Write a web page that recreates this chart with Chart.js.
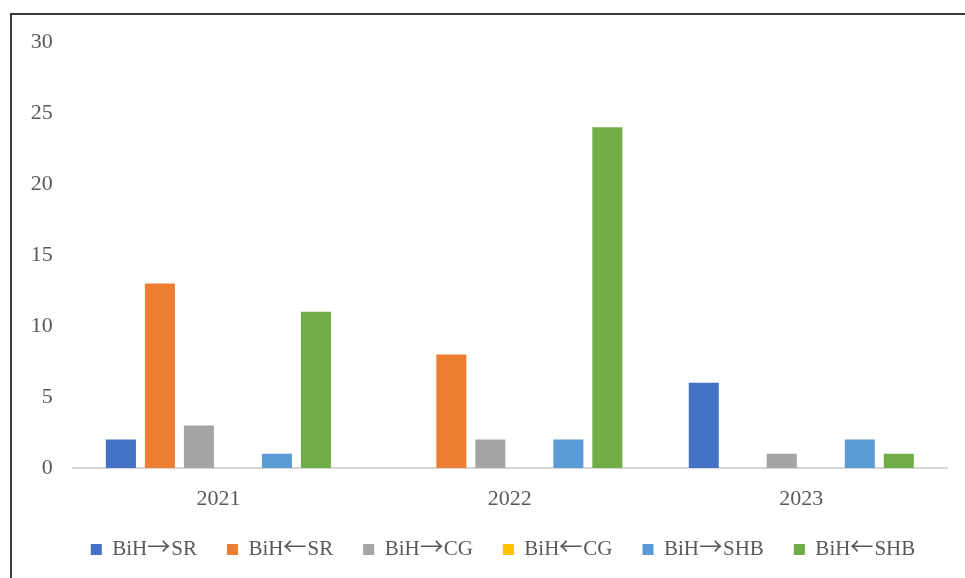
<!DOCTYPE html>
<html>
<head>
<meta charset="utf-8">
<script src="https://cdn.jsdelivr.net/npm/chart.js@4/dist/chart.umd.min.js"></script>
<style>
  /* Arrow glyphs come from a CJK face; everything else stays in the serif face */
  @font-face {
    font-family: 'LegendArrow';
    src: local('Noto Sans CJK SC'), local('Noto Sans CJK SC Regular'), local('NotoSansCJKsc-Regular');
    unicode-range: U+2190-21FF;
    size-adjust: 112%;
  }
  html, body { margin: 0; padding: 0; background: #ffffff; overflow: hidden; }
  #frame {
    position: absolute; left: 10px; top: 13px; width: 970px; height: 580px;
    border-top: 2px solid #3a3a3a; border-left: 2px solid #3a3a3a;
  }
  #wrap { position: absolute; left: 0; top: 0; width: 965px; height: 578px; }
</style>
</head>
<body>
<div id="frame"></div>
<div id="wrap"><canvas id="chart"></canvas></div>
<script>
// Years on the category axis
const years = ['2021', '2022', '2023'];

// Series names
const seriesNames = ['BiH→SR', 'BiH←SR', 'BiH→CG', 'BiH←CG', 'BiH→SHB', 'BiH←SHB'];

// Counts per year for each series
const bihToSR   = [2, 0, 6];
const srToBiH   = [13, 8, 0];
const bihToCG   = [3, 2, 1];
const cgToBiH   = [0, 0, 0];
const bihToSHB  = [1, 2, 2];
const shbToBiH  = [11, 24, 1];

// Value axis ticks
const yTicks = [0, 5, 10, 15, 20, 25, 30];

const seriesValues = [bihToSR, srToBiH, bihToCG, cgToBiH, bihToSHB, shbToBiH];
const seriesColors = ['#4472C4', '#ED7D31', '#A5A5A5', '#FFC000', '#5B9BD5', '#70AD47'];

const textColor = '#595959';
const serif = "'Liberation Serif', 'Times New Roman', serif";
const legendFamily = "'LegendArrow', 'Liberation Serif', 'Times New Roman', serif";

// Nudges the legend block so it sits centred under the whole frame
const legendPlacement = {
  id: 'legendPlacement',
  afterLayout(chart) {
    const lg = chart.legend;
    if (!lg) return;
    const dx = 503 - (lg.left + lg.right) / 2;
    const dy = -8;
    lg.left += dx; lg.right += dx;
    lg.top += dy; lg.bottom += dy;
  }
};

function draw() {
  new Chart(document.getElementById('chart'), {
    type: 'bar',
    data: {
      labels: years,
      datasets: seriesNames.map((name, i) => ({
        label: name,
        data: seriesValues[i],
        backgroundColor: seriesColors[i],
        borderWidth: 0,
        categoryPercentage: 0.803,
        barPercentage: 0.77
      }))
    },
    plugins: [legendPlacement],
    options: {
      responsive: true,
      maintainAspectRatio: false,
      animation: false,
      layout: { padding: { left: 0, right: 18, top: 42, bottom: 0 } },
      plugins: {
        tooltip: { enabled: false },
        legend: {
          position: 'bottom',
          labels: {
            boxWidth: 11,
            boxHeight: 11,
            padding: 30,
            color: textColor,
            font: { family: legendFamily, size: 21 }
          }
        }
      },
      scales: {
        x: {
          grid: { display: false, drawTicks: false },
          border: { display: true, color: '#d6d6d6', width: 2 },
          ticks: { color: textColor, padding: 18, font: { family: serif, size: 22 } },
          afterFit: (scale) => { scale.height = 49; }
        },
        y: {
          min: 0,
          max: 30,
          afterBuildTicks: (scale) => { scale.ticks = yTicks.map(v => ({ value: v })); },
          grid: { display: false, drawTicks: false },
          border: { display: false },
          ticks: { color: textColor, padding: 20, font: { family: serif, size: 22 } },
          afterFit: (scale) => { scale.width = 72.7; }
        }
      }
    }
  });
}

document.fonts.load("21px 'LegendArrow'", '→←').then(draw, draw);
</script>
</body>
</html>
